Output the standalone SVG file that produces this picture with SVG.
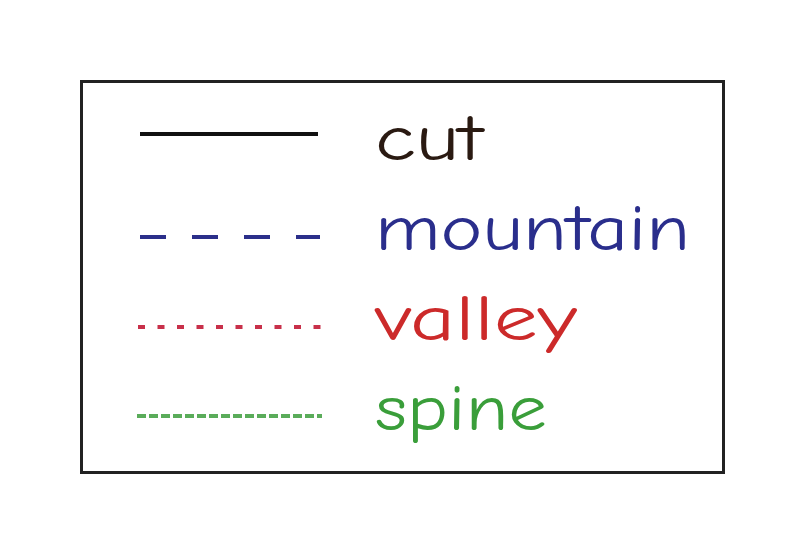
<svg xmlns="http://www.w3.org/2000/svg" width="794" height="544" viewBox="0 0 794 544">
<style>
.lbl{font-family:"Comic Neue","Liberation Sans","DejaVu Sans",sans-serif;font-size:64px}
.ln{fill:none;stroke-width:4}
</style>
<rect width="794" height="544" fill="#ffffff"/>
<g id="legend">
<rect x="81.5" y="81.5" width="642" height="391" fill="#ffffff" stroke="#222222" stroke-width="3"/>
</g>
<g id="connectors">
<line class="ln" x1="140" y1="134" x2="318" y2="134" stroke="#111111" stroke-width="5"/>
<line class="ln" x1="140" y1="237" x2="320" y2="237" stroke="#2b2f8a" stroke-dasharray="26 26"/>
<line class="ln" x1="138" y1="327" x2="322" y2="327" stroke="#c8304a" stroke-dasharray="7 12.5"/>
<line class="ln" x1="137" y1="416" x2="322" y2="416" stroke="#5aac5a" stroke-dasharray="9 3"/>
</g>
<g id="label-cut"><text class="lbl" x="375" y="160" fill="#2a1a12" textLength="108" lengthAdjust="spacingAndGlyphs">cut</text></g>
<g id="label-mountain"><text class="lbl" x="375" y="250" fill="#2a2e8c" textLength="315" lengthAdjust="spacingAndGlyphs">mountain</text></g>
<g id="label-valley"><text class="lbl" x="375" y="340" fill="#cc2a2a" textLength="202" lengthAdjust="spacingAndGlyphs">valley</text></g>
<g id="label-spine"><text class="lbl" x="375" y="430" fill="#3a9e3a" textLength="172" lengthAdjust="spacingAndGlyphs">spine</text></g>
</svg>
